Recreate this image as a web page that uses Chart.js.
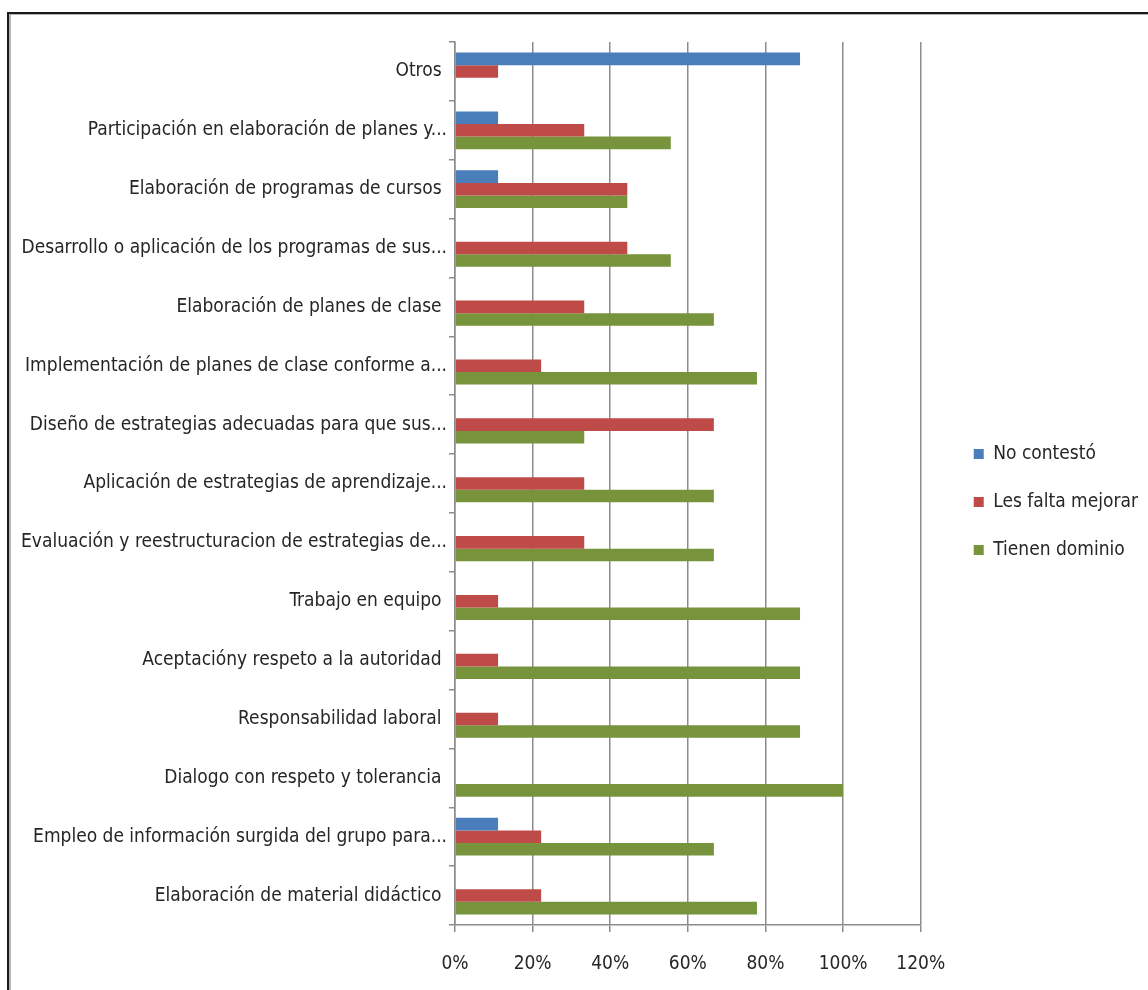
<!DOCTYPE html>
<html lang="es">
<head>
<meta charset="utf-8">
<title>Dominio de competencias</title>
<script src="https://cdn.jsdelivr.net/npm/chart.js@4.4.1/dist/chart.umd.min.js"></script>
<style>
  html, body { margin: 0; padding: 0; background: #fff; overflow: hidden; }
  #frame {
    position: absolute; left: 7px; top: 12px; width: 1200px; height: 1100px;
    border-left: 2px solid #1a1a1a; border-top: 2px solid #1a1a1a;
    box-shadow: inset 2px 1px 0 #b5b5b5;
  }
  #chart-box { position: absolute; left: 0; top: 0; width: 1148px; height: 990px; }
</style>
</head>
<body>
<div id="frame"></div>
<div id="chart-box"><canvas id="chart" width="1148" height="990"></canvas></div>
<script>
// ===== DATA =====
const categories = [
    'Otros ',
    'Participación en elaboración de planes y...',
    'Elaboración de programas de cursos ',
    'Desarrollo o aplicación de los programas de sus...',
    'Elaboración de planes de clase ',
    'Implementación de planes de clase conforme a...',
    'Diseño de estrategias adecuadas para que sus...',
    'Aplicación de estrategias de aprendizaje...',
    'Evaluación y reestructuracion de estrategias de...',
    'Trabajo en equipo ',
    'Aceptacióny respeto a la autoridad ',
    'Responsabilidad laboral ',
    'Dialogo con respeto y tolerancia ',
    'Empleo de información surgida del grupo para...',
    'Elaboración de material didáctico '
];
const seriesNames = ['No contestó', 'Les falta mejorar', 'Tienen dominio'];
const noContesto      = [88.9, 11.1, 11.1, 0, 0, 0, 0, 0, 0, 0, 0, 0, 0, 11.1, 0];
const lesFaltaMejorar = [11.1, 33.3, 44.4, 44.4, 33.3, 22.2, 66.7, 33.3, 33.3, 11.1, 11.1, 11.1, 0, 22.2, 22.2];
const tienenDominio   = [0, 55.6, 44.4, 55.6, 66.7, 77.8, 33.3, 66.7, 66.7, 88.9, 88.9, 88.9, 100, 66.7, 77.8];
const xMax = 120;
const xStep = 20;

// ===== STYLE =====
const FONT = "'DejaVu Sans Condensed', 'DejaVu Sans', sans-serif";
const TEXT_COLOR = '#262626';
const GRID_COLOR = '#8c8c8c';
const COLORS = ['#4a7ebb', '#be4b48', '#77933c'];

// empty spacer axis (no ticks, no lines), only takes room in the layout
function spacer(axis, position, size) {
    return {
        type: axis === 'x' ? 'linear' : 'category',
        axis: axis,
        position: position,
        ticks: { display: false },
        grid: { display: false },
        border: { display: false },
        afterFit: (s) => {
            if (axis === 'x') s.height = size; else s.width = size;
        }
    };
}

// ===== CHART =====
const ctx = document.getElementById('chart').getContext('2d');
new Chart(ctx, {
    type: 'bar',
    data: {
        labels: categories,
        datasets: [
            { label: seriesNames[0], data: noContesto, backgroundColor: COLORS[0] },
            { label: seriesNames[1], data: lesFaltaMejorar, backgroundColor: COLORS[1] },
            { label: seriesNames[2], data: tienenDominio, backgroundColor: COLORS[2] }
        ]
    },
    options: {
        indexAxis: 'y',
        responsive: false,
        animation: false,
        devicePixelRatio: 1,
        categoryPercentage: 0.64,
        barPercentage: 1.0,
        layout: { padding: { top: 24, bottom: 10, left: 0, right: 0 } },
        scales: {
            x: {
                min: 0,
                max: xMax,
                ticks: {
                    stepSize: xStep,
                    color: TEXT_COLOR,
                    font: { family: FONT, size: 19 },
                    padding: 21,
                    callback: (v) => v + '%'
                },
                grid: { color: GRID_COLOR, lineWidth: 1.5, tickLength: 7 },
                border: { color: GRID_COLOR, width: 1.5 },
                afterFit: (s) => { s.height = 55; }
            },
            y: {
                type: 'category',
                ticks: {
                    color: TEXT_COLOR,
                    font: { family: FONT, size: 19 },
                    padding: 2,
                    autoSkip: false
                },
                grid: { offset: true, drawOnChartArea: false, color: GRID_COLOR, lineWidth: 1.5, tickLength: 6 },
                border: { color: GRID_COLOR, width: 1.5 },
                afterFit: (s) => { s.width = 455; }
            },
            gapRight: spacer('y', 'right', 24),
            gapTop: spacer('x', 'top', 18)
        },
        plugins: {
            legend: {
                position: 'right',
                maxWidth: 300,
                labels: {
                    boxWidth: 10,
                    boxHeight: 10,
                    padding: 29,
                    color: TEXT_COLOR,
                    font: { family: FONT, size: 19 }
                }
            },
            tooltip: { enabled: false }
        }
    }
});
</script>
</body>
</html>
